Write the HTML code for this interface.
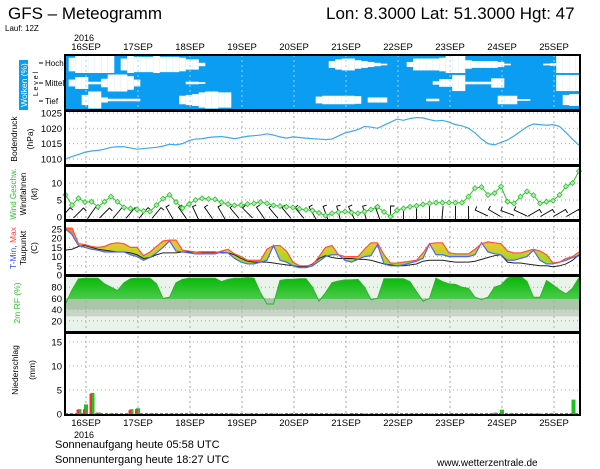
<!DOCTYPE html>
<html><head><meta charset="utf-8">
<style>
html,body{margin:0;padding:0;background:#fff;}
svg{display:block;font-family:"Liberation Sans",sans-serif;}
</style></head>
<body>
<svg id="chart" width="600" height="469" viewBox="0 0 600 469" xmlns="http://www.w3.org/2000/svg">
<defs>
<linearGradient id="tgrad" gradientUnits="userSpaceOnUse" x1="0" y1="229" x2="0" y2="262">
<stop offset="0" stop-color="#f07828"/><stop offset="0.45" stop-color="#e8c830"/><stop offset="1" stop-color="#a0d820"/>
</linearGradient>
<linearGradient id="rgrad" gradientUnits="userSpaceOnUse" x1="0" y1="276" x2="0" y2="300">
<stop offset="0" stop-color="#00b800"/><stop offset="1" stop-color="#50cc50"/>
</linearGradient>
<clipPath id="rhclip"><rect x="65" y="276" width="515" height="23"/></clipPath>
<clipPath id="plotclip"><rect x="65" y="55" width="515" height="360"/></clipPath>
</defs>
<text x="8" y="19" font-size="17">GFS – Meteogramm</text>
<text x="326" y="19" font-size="17">Lon: 8.3000 Lat: 51.3000 Hgt: 47</text>
<text x="5" y="31" font-size="8">Lauf: 12Z</text>
<text x="74" y="41" font-size="9">2016</text>
<text x="74" y="438" font-size="9">2016</text>
<text x="55" y="448" font-size="11">Sonnenaufgang heute 05:58 UTC</text>
<text x="55" y="463" font-size="11">Sonnenuntergang heute 18:27 UTC</text>
<text x="437" y="466" font-size="10">www.wetterzentrale.de</text>
<g id="layer"></g>
</svg>
<script>
const days = ['16SEP','17SEP','18SEP','19SEP','20SEP','21SEP','22SEP','23SEP','24SEP','25SEP'];
const pressure = [1010,1010.8,1011.5, 1012.2,1012.6,1012.8,1013.2,1013.8,1014.0,1014.0,1013.6, 1013.2,1013.4,1013.6,1013.8,1014.2,1014.8,1014.6,1015.0, 1016,1016.5,1016.6,1017,1017.2,1017.3,1017,1016.6, 1017,1017.4,1017.6,1017.8,1018.2,1017.8,1017.2,1016.8, 1017.2,1017,1016.8,1016.6,1016.5,1016.3,1016.5,1017.5, 1018.5,1019,1019.6,1020.6,1020.4,1020,1021,1022, 1023,1022.6,1023.2,1023.5,1023.4,1022.8,1022.4,1022.6, 1022,1021.2,1020.8,1020,1018.5,1016.5,1015,1014.6, 1015.4,1016.2,1017.5,1019,1020.5,1021.4,1021.2,1021, 1021.2,1020.6,1018.6,1016.4,1014.5];
const windSpeed = [6.5,3.5,5.5,4.4,4.5,3,4.5,6,4.5,2.8,2.5,2.2,1.8,1.6,3.5,5.4,6.5,4.4,2.6,3.8,5,5.5,5.3,5.2,4.3,3.8,3.4,3.5,3.8,4,4.4,4,3.4,3.2,3,2.8,2.4,2.1,1.9,1.2,0.4,1.1,1.4,1.6,1.3,1.1,1.6,2.2,3,1.5,0.1,2,2.5,3,3.3,3.7,4,4.2,4.2,4.2,4.2,4.2,6,8.5,8.8,6.5,7,9,4.5,4,6,7.5,6.4,4,4.5,4.8,6.5,9,10,13.5];
const windDir = [40,40,45,40,35,40,45,40,40,35,40,45,40,40,40,35,330,330,325,330,335,330,325,330,330,325,320,320,315,320,325,320,320,315,320,325,320,320,330,335,340,340,345,340,335,340,345,340,340,0,0,180,180,185,180,175,180,180,185,180,180,175,180,290,295,290,300,295,290,300,295,290,60,65,60,55,60,65,60,60];
const tMax = [25.5,25.5,17,16.5,15.5,15,15.5,17,17.5,17,15,15,10.5,12.5,15.5,18.5,19,19,13.5,13,12.5,12,12,12,13,14,11.5,10,8,8,8,14,16,16,13,7,5,5,5.5,10,15,16,11,10,10,10,14,17.5,17.5,11,6.5,6.5,7,7.5,8,12,17,17.5,17.5,12,11.5,11.5,11.5,14,17,18,17.5,17,13,12,12,13,14,13,11,6.5,7,9,10,12.5];
const tMin = [25,22,16,15,14,13.5,12.5,12.5,12.5,12.5,11,10,8,9.5,12,15,18.5,13,12.5,12,11.5,11.5,11.5,11.5,12.5,12,9,7,6,6,7,8,16,8,7,5,4,4,5,7.5,10,11,11,8,7,8.5,10,10.5,16.5,6,5,5,5.5,6.5,7.5,9,17,11,11,10,10,10,10,11,17.5,12.5,11.5,11,8,8,9,10,13.5,8,6,6,7,8,9.5,10.5];
const dewPoint = [13.5,14,15.5,16,15,14,13.5,13,12.5,12.5,12,11,9,9.5,11,12,12,12,12.5,12.5,12.5,12.5,12.5,12.5,12,12,11,9,7.5,7,7,7,6.5,6,5.5,5,4.5,4.5,6,9,10.5,9.5,9,9,9,8.5,8.5,8,7,6,5.5,5,5,5.5,6,7.5,8,8,8,7.5,7,7,7,7.5,8.5,9.5,10.5,11,7,6.5,6.5,6,5.5,5,5,4.5,5,6,8,11];
const rh = [50,75,95,96,96,96,86,80,74,88,95,96,96,96,86,60,62,88,94,96,96,96,96,96,90,94,96,96,97,96,70,50,50,92,94,94,95,95,80,55,70,88,91,93,93,94,80,58,60,95,95,95,95,90,72,55,60,96,90,86,85,80,78,62,58,62,80,84,96,100,100,90,62,62,92,84,75,68,78,97];
const precipTotal = [0,0,1,2,4.4,0.3,0,0,0,0,1,1.2,0,0,0,0,0,0,0,0,0,0,0,0,0,0,0.1,0,0.1,0,0.1,0,0.1,0.1,0,0,0,0,0,0,0,0.1,0.1,0.1,0,0,0.1,0,0,0,0,0,0,0,0,0,0.1,0,0,0,0,0,0,0,0,0,0.3,0.9,0,0,0,0,0.1,0.1,0,0,0,0,3,0];
const precipConv = [0,0,0.9,1,4.2,0.3,0,0,0,0,0.8,1,0,0,0,0,0,0,0,0,0,0,0,0,0,0,0.1,0,0,0,0,0,0,0,0,0,0,0,0,0,0,0,0.1,0,0,0,0,0,0,0,0,0,0,0,0,0,0,0,0,0,0,0,0,0,0,0,0,0.2,0,0,0,0,0,0.1,0,0,0,0,0,0];
const cloudHigh = [0,80,100,100,100,100,100,100,0,70,100,90,90,90,100,90,90,90,80,60,60,20,0,0,0,0,0,0,0,0,0,0,0,0,0,0,0,0,0,0,0,40,60,70,70,50,40,30,20,10,0,0,0,30,70,70,70,70,80,100,100,100,50,40,40,40,40,30,10,0,0,0,0,0,10,15,100,100,100,100];
const cloudMid = [0,40,70,70,15,15,50,100,100,100,80,40,0,0,0,0,0,0,0,15,15,10,0,0,0,0,0,0,0,0,0,0,0,0,0,0,0,0,0,0,0,0,0,0,0,0,0,0,0,0,0,0,0,0,0,0,0,20,45,45,95,95,15,15,15,15,55,55,0,0,0,0,0,0,0,0,95,95,95,95];
const cloudLow = [0,0,0,60,100,100,30,15,15,15,15,15,0,0,0,0,0,0,50,60,70,90,100,100,90,90,0,0,0,0,0,0,0,0,0,0,0,0,0,40,50,50,50,50,50,45,0,30,30,30,0,0,0,0,0,0,15,15,0,0,0,0,0,0,0,0,0,50,50,50,10,10,0,0,0,0,0,60,70,70];
const pTicks = [1010,1015,1020,1025];
const wTicks = [0,5,10];
const tTicks = [0,5,10,15,20,25];
const rTicks = [20,40,60,80];
const prTicks = [0,5,10,15];

const NS='http://www.w3.org/2000/svg';
const layerEl=document.getElementById('layer');
function mk(tag,attrs,parent){const e=document.createElementNS(NS,tag);for(const k in attrs)e.setAttribute(k,attrs[k]);(parent||layerEl).appendChild(e);return e;}
const X=i=>65.5+6.5*i;
const dayX=k=>X(3+8*k)+1;
const yP=p=>159-(p-1010)*3.07;
const yW=w=>217-3.4*w;
const yT=t=>275-1.84*t;
const yR=r=>332-0.56*r;
const yPr=m=>414-4.8*m;
const LEFT=65,RIGHT=580;

let e=mk('rect',{x:LEFT,y:55,width:RIGHT-LEFT,height:55,fill:'#0a9df2'});

[[cloudHigh,64.5,'cloud-high'],[cloudMid,83,'cloud-mid'],[cloudLow,100,'cloud-low']].forEach(([arr,cy,nm])=>{
  arr.forEach((v,i)=>{ if(v<=0)return; const h=v/100*17;
    const r=mk('rect',{x:X(i)-3.3,y:cy-h/2,width:6.6,height:h,fill:'#fff'});
    
    
  });
});
e=mk('rect',{x:LEFT,y:276,width:RIGHT-LEFT,height:56,fill:'#e9f3e9'});

e=mk('rect',{x:LEFT,y:yR(60),width:RIGHT-LEFT,height:yR(40)-yR(60),fill:'#a9c6a9'});

e=mk('rect',{x:LEFT,y:yR(40),width:RIGHT-LEFT,height:yR(28)-yR(40),fill:'#c8d4c8'});


function hgrid(ticks,fy,nm){ticks.forEach(t=>{const g=mk('line',{x1:LEFT,x2:RIGHT,y1:fy(t),y2:fy(t),stroke:'#aaa','stroke-width':1,'stroke-dasharray':'1,3'});});}
hgrid(pTicks,yP,'pressure-gridline');hgrid(wTicks,yW,'wind-gridline');hgrid(tTicks,yT,'temp-gridline');hgrid(rTicks,yR,'rh-gridline');hgrid(prTicks,yPr,'precip-gridline');
days.forEach((d,k)=>{[[55,110,'#9cd4f8'],[111,415,'#aaa']].forEach(([a,b,c])=>{const g=mk('line',{x1:dayX(k),x2:dayX(k),y1:a,y2:b,stroke:c,'stroke-width':1,'stroke-dasharray':'2,3'});});});

let pts=rh.map((v,i)=>X(i)+','+yR(v)).join(' ');
e=mk('polygon',{points:X(0)+',300 '+pts+' '+X(rh.length-1)+',300',fill:'url(#rgrad)','clip-path':'url(#rhclip)'});

e=mk('polyline',{points:pts,fill:'none',stroke:'#30b030','stroke-width':1});


e=mk('polyline',{points:pressure.map((v,i)=>X(i)+','+yP(v)).join(' '),fill:'none',stroke:'#40a8f0','stroke-width':1.2});


windDir.forEach((d,i)=>{ if(i%2)return; const a=d*Math.PI/180,s=Math.sin(a),c=Math.cos(a),cy=213;
  const x1=X(i)-s*7,y1=cy+c*7,x2=X(i)+s*7,y2=cy-c*7;
  const b=mk('path',{d:`M${x1},${y1}L${x2},${y2}l${c*4},${s*4}`,stroke:'#000','stroke-width':0.9,fill:'none','clip-path':'url(#plotclip)'});
  
  
});
e=mk('polyline',{points:windSpeed.map((v,i)=>X(i)+','+yW(v)).join(' '),fill:'none',stroke:'#30c030','stroke-width':1});

windSpeed.forEach((v,i)=>{const m=mk('path',{d:`M${X(i)},${yW(v)-2.5}l2.5,2.5l-2.5,2.5l-2.5,-2.5z`,fill:'#b0f0b0',stroke:'#30c030','stroke-width':0.8});
  
  });

const tTopPts=tMax.map((v,i)=>X(i)+','+yT(v));
const tBotPts=tMin.map((v,i)=>X(i)+','+yT(v)).reverse();
e=mk('polygon',{points:tTopPts.concat(tBotPts).join(' '),fill:'url(#tgrad)'});

e=mk('polyline',{points:dewPoint.map((v,i)=>X(i)+','+yT(v)).join(' '),fill:'none',stroke:'#222','stroke-width':1});

e=mk('polyline',{points:tMin.map((v,i)=>X(i)+','+yT(v)).join(' '),fill:'none',stroke:'#4868ff','stroke-width':1.2});

e=mk('polyline',{points:tTopPts.join(' '),fill:'none',stroke:'#ff5040','stroke-width':1.2});


e=mk('line',{x1:LEFT,x2:RIGHT,y1:414,y2:414,stroke:'#000','stroke-dasharray':'3,2'});

precipTotal.forEach((v,i)=>{if(v>0){const r=mk('rect',{x:X(i)-1,y:yPr(v),width:4,height:414-yPr(v),fill:'#20c020'});
  }});
precipConv.forEach((v,i)=>{if(v>0){const r=mk('rect',{x:X(i)-2,y:yPr(v),width:2.5,height:414-yPr(v),fill:'#f03030'});
  }});

[[55,110],[111,165],[166,220],[221,275],[276,332],[333,415]].forEach(([a,b])=>{const f=mk('rect',{x:LEFT,y:a,width:RIGHT-LEFT,height:b-a,fill:'none',stroke:'#000','stroke-width':2});
  });

function ylab(ticks,fy,nm){ticks.forEach(t=>{const tx=mk('text',{x:62,y:fy(t)+3.5,'font-size':9.5,'text-anchor':'end'});tx.textContent=t;
  });}
ylab(pTicks,yP,'pressure-tick-label');ylab(wTicks,yW,'wind-tick-label');ylab(tTicks,yT,'temp-tick-label');ylab(rTicks,yR,'rh-tick-label');ylab(prTicks,yPr,'precip-tick-label');
days.forEach((d,k)=>{[50,426].forEach(y=>{const tx=mk('text',{x:dayX(k),y:y,'font-size':9.5,'text-anchor':'middle'});tx.textContent=d;
  });});

[['Hoch',66],['Mittel',86],['Tief',104]].forEach(([t,y])=>{const tx=mk('text',{x:45,y:y,'font-size':8});tx.textContent=t;
  
  const tk=mk('line',{x1:39,x2:43,y1:y-3,y2:y-3,stroke:'#000'});
  });
function vlabel(txt,x,y,col,nm,size){const tx=mk('text',{x:0,y:0,'font-size':size||9,'text-anchor':'middle',fill:col||'#000',transform:`translate(${x},${y}) rotate(-90)`});tx.textContent=txt;
  return tx;}
e=mk('rect',{x:19,y:60,width:9,height:50,fill:'#0a9df2'});
vlabel('Wolken (%)',27,85,'#fff','cloud-axis-title',8.5);
vlabel('L e v e l',38,84,'#000','level-axis-title',7);
vlabel('Bodendruck',17,139,'#000','pressure-axis-title',8.5);
vlabel('(hPa)',33,139,'#000','pressure-unit',8.5);
vlabel('Wind Geschw.',16,194,'#30c030','wind-speed-title',8);
vlabel('Windfahnen',26,194,'#000','wind-barb-title',8);
vlabel('(kt)',37,194,'#000','wind-unit',8.5);
const tt=vlabel('',16,248,'#000','temp-axis-title',8.5);
tt.innerHTML='<tspan fill="#3050ff">T-Min, </tspan><tspan fill="#ff4040">Max</tspan>';
vlabel('Taupunkt',26,248,'#000','dewpoint-title',8.5);
vlabel('(C)',37,248,'#000','temp-unit',8.5);
vlabel('2m RF (%)',20,303,'#30c030','rh-axis-title',8.5);
vlabel('Niederschlag',18,370,'#000','precip-axis-title',8.5);
vlabel('(mm)',35,370,'#000','precip-unit',8.5);
</script>
</body></html>
